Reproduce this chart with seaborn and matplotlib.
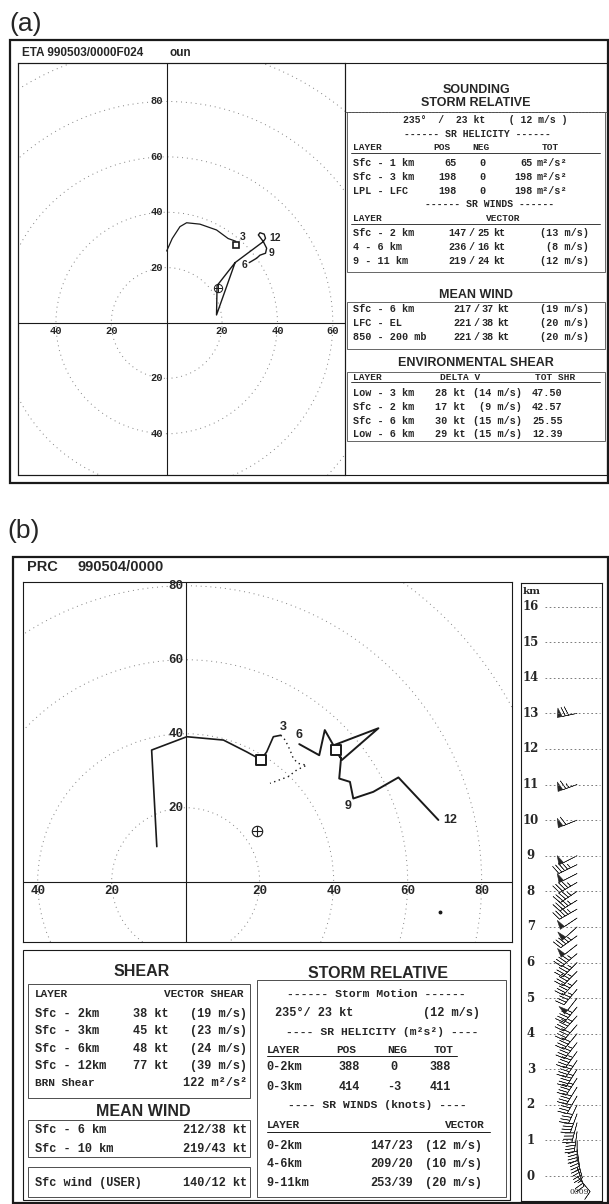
import numpy as np
import matplotlib
matplotlib.use("Agg")
import matplotlib.pyplot as plt
import seaborn as sns
from matplotlib.patches import Rectangle, Circle

# ---------------- data ----------------
# panel (a) hodograph, knots
a_upper_u = [0.0, 2.0, 4.8, 7.2, 12.0, 18.0, 22.2, 25.0]
a_upper_v = [26.0, 30.5, 34.8, 36.2, 35.7, 33.6, 30.5, 29.5]
a_lower_u = [24.7, 18.2, 18.0, 24.7, 34.9, 33.1, 33.7, 35.2, 35.7, 34.9, 36.1, 35.7, 33.7, 32.5, 29.8]
a_lower_v = [21.8, 13.5, 2.9, 21.8, 29.4, 31.8, 32.6, 32.1, 30.6, 29.4, 27.0, 25.2, 24.5, 23.4, 21.8]
a_square = (25.0, 28.2)
a_storm = (18.4, 12.8)
a_labels = ["3", "6", "9", "12"]
a_label_u = [27.6, 28.0, 37.7, 39.3]
a_label_v = [31.2, 20.9, 25.2, 30.6]

# panel (b) hodograph, knots
b_low_u = [-7.8, -9.2, 0.3, 10.2, 16.5, 20.3, 21.9, 23.7, 25.7]
b_low_v = [9.5, 35.6, 39.2, 38.3, 35.1, 33.0, 35.1, 39.2, 39.6]
b_dot_u = [25.7, 26.9, 28.2, 29.1, 30.4, 32.7, 30.0, 27.7, 22.8]
b_dot_v = [39.6, 38.3, 35.6, 33.3, 32.0, 31.5, 30.2, 28.4, 26.6]
b_up_u = [30.7, 36.1, 37.6, 42.2, 52.1, 39.5, 42.0, 41.5, 44.4, 45.3, 50.7, 57.5, 68.3]
b_up_v = [37.2, 34.2, 41.0, 32.9, 41.5, 36.7, 33.5, 27.9, 27.0, 22.5, 24.3, 28.2, 16.7]
b_squares_u = [20.3, 40.6]
b_squares_v = [32.9, 35.6]
b_storm = (19.2, 13.8)
b_dot = (68.7, -8.1)
b_labels = ["3", "6", "9", "12"]
b_label_u = [26.4, 30.6, 43.9, 71.5]
b_label_v = [41.9, 39.8, 20.5, 16.7]

# panel (b) wind profile (km, direction deg, speed kt)
prof_km = [0.0, 0.25, 0.5, 0.75, 1.0, 1.25, 1.5, 1.75, 2.0, 2.25, 2.5, 2.75, 3.0,
           3.25, 3.5, 3.75, 4.0, 4.25, 4.5, 4.75, 5.0, 5.25, 5.5, 5.75, 6.0,
           6.25, 6.5, 6.75, 7.0, 7.25, 7.5, 7.75, 8.0, 8.25, 8.5, 8.75, 9.0,
           10.0, 11.0, 13.0]
prof_dir = [140, 160, 165, 172, 180, 188, 195, 200, 205, 210, 212, 213, 212,
            214, 216, 218, 220, 221, 222, 220, 218, 220, 223, 225, 225,
            230, 232, 234, 228, 236, 240, 238, 236, 240, 243, 244, 243,
            248, 250, 258]
prof_spd = [12, 25, 36, 38, 39, 39, 39, 38, 38, 39, 40, 44, 46,
            45, 44, 43, 42, 42, 43, 46, 48, 47, 46, 45, 47,
            45, 48, 47, 49, 48, 46, 45, 47, 46, 48, 47, 48,
            60, 64, 72]
prof_ticks = list(range(0, 17))

# panel (a) tables
a_motion = "235°  /  23 kt    ( 12 m/s )"
a_hel_layers = ["Sfc - 1 km", "Sfc - 3 km", "LPL - LFC"]
a_hel_pos = [65, 198, 198]
a_hel_neg = [0, 0, 0]
a_hel_tot = [65, 198, 198]
a_srw_layers = ["Sfc - 2 km", "4 - 6 km", "9 - 11 km"]
a_srw_dir = [147, 236, 219]
a_srw_kt = [25, 16, 24]
a_srw_ms = [13, 8, 12]
a_mw_layers = ["Sfc - 6 km", "LFC - EL", "850 - 200 mb"]
a_mw_dir = [217, 221, 221]
a_mw_kt = [37, 38, 38]
a_mw_ms = [19, 20, 20]
a_sh_layers = ["Low - 3 km", "Sfc - 2 km", "Sfc - 6 km", "Low - 6 km"]
a_sh_kt = [28, 17, 30, 29]
a_sh_ms = [14, 9, 15, 15]
a_sh_tot = ["47.50", "42.57", "25.55", "12.39"]

# panel (b) tables
b_sh_layers = ["Sfc - 2km", "Sfc - 3km", "Sfc - 6km", "Sfc - 12km"]
b_sh_kt = [38, 45, 48, 77]
b_sh_ms = [19, 23, 24, 39]
b_brn = 122
b_mw_layers = ["Sfc - 6 km", "Sfc - 10 km"]
b_mw_vals = ["212/38 kt", "219/43 kt"]
b_sfc_wind = "140/12 kt"
b_hel_layers = ["0-2km", "0-3km"]
b_hel_pos = [388, 414]
b_hel_neg = [0, -3]
b_hel_tot = [388, 411]
b_srw_layers = ["0-2km", "4-6km", "9-11km"]
b_srw_vec = ["147/23", "209/20", "253/39"]
b_srw_ms = [12, 10, 20]

# ---------------- figure ----------------
sns.set_theme(style="white")
plt.rcParams['font.family'] = ['Liberation Sans', 'DejaVu Sans']
MONO = ['Liberation Mono', 'DejaVu Sans Mono']
SANS = ['Liberation Sans', 'DejaVu Sans']
SERIF = ['DejaVu Serif']

W, H = 609, 1204
fig = plt.figure(figsize=(W / 100, H / 100), dpi=100)
fig.patch.set_facecolor('white')


def rect(x0, y0, x1, y1):
    return [x0 / W, 1 - y1 / H, (x1 - x0) / W, (y1 - y0) / H]


def hodo_axes(box, xlim, ylim, rings):
    ax = fig.add_axes(rect(*box))
    ax.set_xlim(*xlim)
    ax.set_ylim(*ylim)
    ax.set_xticks([])
    ax.set_yticks([])
    for s in ax.spines.values():
        s.set_linewidth(0.8)
        s.set_color('k')
    for r in rings:
        ax.add_patch(Circle((0, 0), r, fill=False, ls=(0, (1, 4)), lw=0.7, color='0.5'))
    ax.axhline(0, color='k', lw=0.8)
    ax.axvline(0, color='k', lw=0.8)
    return ax


# ---- panel (a) hodograph
axa = hodo_axes((18, 63, 345, 475), (-53.7, 64.4), (-54.9, 93.9), [20, 40, 60, 80, 100])
sns.lineplot(x=a_upper_u, y=a_upper_v, sort=False, estimator=None, color='k', lw=0.9, ax=axa)
sns.lineplot(x=a_lower_u, y=a_lower_v, sort=False, estimator=None, color='k', lw=1.0, ax=axa)
axa.plot(*a_square, marker='s', ms=4.5, mfc='white', mec='k', mew=1.2)
axa.plot(*a_storm, marker='o', ms=6, mfc='none', mec='k', mew=0.7)
axa.plot(*a_storm, marker='+', ms=6, color='k', mew=0.7)
for s, u, v in zip(a_labels, a_label_u, a_label_v):
    axa.text(u, v, s, fontsize=7.5, fontweight='bold', ha='center', va='center', family=SANS)
for val in [-40, -20, 20, 40, 60]:
    axa.text(val, -1.0, str(abs(val)), fontsize=7.5, fontweight='bold', ha='center', va='top', family=MONO)
for val in [80, 60, 40, 20, -20, -40]:
    axa.text(-1.2, val, str(abs(val)), fontsize=7.5, fontweight='bold', ha='right', va='center', family=MONO)

# ---- panel (b) hodograph
axb = hodo_axes((22.7, 581.7, 512, 941.7), (-44.05, 88.2), (-16.2, 81.1), [20, 40, 60, 80, 100])
sns.lineplot(x=b_low_u, y=b_low_v, sort=False, estimator=None, color='k', lw=1.2, ax=axb)
sns.lineplot(x=b_up_u, y=b_up_v, sort=False, estimator=None, color='k', lw=1.4, ax=axb)
axb.plot(b_dot_u, b_dot_v, color='k', lw=1.0, ls=(0, (1, 2.5)))
sns.scatterplot(x=b_squares_u, y=b_squares_v, marker='s', s=45, facecolor='white',
                edgecolor='k', linewidth=1.4, ax=axb, zorder=5)
axb.plot(*b_storm, marker='o', ms=7.5, mfc='none', mec='k', mew=0.8)
axb.plot(*b_storm, marker='+', ms=7.5, color='k', mew=0.8)
axb.plot(*b_dot, marker='o', ms=1.8, color='k')
for s, u, v in zip(b_labels, b_label_u, b_label_v):
    axb.text(u, v, s, fontsize=9, fontweight='bold', ha='center', va='center', family=SANS)
for val in [-40, -20, 20, 40, 60, 80]:
    axb.text(val, -0.9, str(abs(val)), fontsize=9, fontweight='bold', ha='center', va='top', family=MONO)
for val in [80, 60, 40, 20]:
    axb.text(-0.6, val, str(val), fontsize=9, fontweight='bold', ha='right', va='center', family=MONO)

# ---- panel (b) wind profile
axp = fig.add_axes(rect(521, 582.7, 602.3, 1201))
axp.set_xlim(0, 1)
axp.set_ylim(-0.70, 16.67)
axp.set_xticks([])
axp.set_yticks([])
for s in axp.spines.values():
    s.set_linewidth(0.8)
    s.set_color('k')
for k in prof_ticks:
    axp.plot([0.30, 0.975], [k, k], color='0.4', lw=0.6, ls=(0, (2, 3)))
    axp.text(0.12, k, str(k), fontsize=8.5, fontweight='bold', ha='center', va='center', family=SERIF)
axp.text(0.02, 16.42, "km", fontsize=7.5, fontweight='bold', ha='left', va='center', family=SERIF)
d = np.deg2rad(prof_dir)
pu = -np.array(prof_spd) * np.sin(d)
pv = -np.array(prof_spd) * np.cos(d)
axp.barbs([0.69] * len(prof_km), prof_km, pu, pv, length=5.4, linewidth=0.4, color='0.15',
          pivot='tip', sizes=dict(emptybarb=0.0, spacing=0.16, height=0.45))
axp.text(0.72, -0.45, "0009", fontsize=5.5, ha='center', va='center', family=SERIF)

# ---------------- overlay (frames and tables, pixel coords) ----------------
ov = fig.add_axes([0, 0, 1, 1], zorder=10)
ov.set_xlim(0, W)
ov.set_ylim(H, 0)
ov.axis('off')
ov.patch.set_alpha(0)


def box(x0, y0, x1, y1, lw=0.7, color='k', ls='-'):
    ov.add_patch(Rectangle((x0, y0), x1 - x0, y1 - y0, fill=False, lw=lw, ec=color, ls=ls))


def hline(x0, x1, y, lw=0.6, color='k', ls='-'):
    ov.plot([x0, x1], [y, y], color=color, lw=lw, ls=ls)


def txt(x, y, s, size=7.3, ha='left', family=MONO, weight='bold'):
    ov.text(x, y, s, fontsize=size, ha=ha, va='center', family=family, fontweight=weight)


# panel labels
ov.text(9, 24, "(a)", fontsize=19, ha='left', va='center', family=SANS)
ov.text(7, 531, "(b)", fontsize=19, ha='left', va='center', family=SANS)

# ---- panel (a) frames
box(10, 40, 608, 483, lw=1.6)
box(18, 63, 607, 475, lw=0.8)
ov.plot([345, 345], [63, 475], color='k', lw=0.8)
txt(22, 53, "ETA 990503/0000F024", size=8.5, family=SANS)
txt(170, 53, "oun", size=8.5, family=SANS)

# ---- panel (a) tables
G = '0.3'
hline(345, 607, 112, color=G, ls=(0, (3, 1)))
box(347, 112, 605, 272, lw=0.6, color=G)
box(347, 302, 605, 349, lw=0.6, color=G)
box(347, 372, 605, 441, lw=0.6, color=G)

txt(476, 90, "SOUNDING", size=9, ha='center', family=SANS)
txt(476, 103, "STORM RELATIVE", size=9, ha='center', family=SANS)
txt(485, 120, a_motion, size=7, ha='center')
txt(477, 134, "------ SR HELICITY ------", size=7, ha='center')
txt(353, 147, "LAYER", size=6.8)
txt(442, 147, "POS", size=6.8, ha='center')
txt(481, 147, "NEG", size=6.8, ha='center')
txt(550, 147, "TOT", size=6.8, ha='center')
hline(351, 600, 153, lw=0.6)
for i, y in enumerate([162.7, 176.7, 190.7]):
    txt(353, y, a_hel_layers[i])
    txt(457, y, str(a_hel_pos[i]), ha='right')
    txt(482, y, str(a_hel_neg[i]), ha='center')
    txt(533, y, str(a_hel_tot[i]), ha='right')
    txt(537, y, "m²/s²")
txt(490, 204, "------ SR WINDS ------", size=7, ha='center')
txt(353, 218.3, "LAYER", size=6.8)
txt(503, 218.3, "VECTOR", size=6.8, ha='center')
hline(351, 600, 223.5, lw=0.6)
for i, y in enumerate([233.3, 247.3, 261]):
    txt(353, y, a_srw_layers[i])
    txt(467, y, str(a_srw_dir[i]), ha='right')
    txt(472, y, "/", ha='center')
    txt(490, y, str(a_srw_kt[i]), ha='right')
    txt(493, y, "kt")
    txt(589, y, "(%d m/s)" % a_srw_ms[i], ha='right')

txt(476, 295, "MEAN WIND", size=9, ha='center', family=SANS)
for i, y in enumerate([309.3, 323.3, 337.3]):
    txt(353, y, a_mw_layers[i])
    txt(472, y, str(a_mw_dir[i]), ha='right')
    txt(477, y, "/", ha='center')
    txt(494, y, str(a_mw_kt[i]), ha='right')
    txt(497, y, "kt")
    txt(589, y, "(%d m/s)" % a_mw_ms[i], ha='right')

txt(476, 363.3, "ENVIRONMENTAL SHEAR", size=9, ha='center', family=SANS)
txt(353, 377, "LAYER", size=6.8)
txt(440, 377, "DELTA V", size=6.8)
txt(535, 377, "TOT SHR", size=6.8)
hline(351, 600, 382, lw=0.6)
for i, y in enumerate([393, 407, 420.5, 434]):
    txt(353, y, a_sh_layers[i])
    txt(435, y, "%d kt" % a_sh_kt[i])
    txt(522, y, "(%d m/s)" % a_sh_ms[i], ha='right')
    txt(532, y, a_sh_tot[i])

# ---- panel (b) frames
box(13, 557, 608, 1203, lw=1.6)
txt(27, 567, "PRC", size=10.5, family=SANS)
txt(78, 567, "990504/0000", size=10.5, family=SANS)

# ---- panel (b) tables
box(22.7, 950, 510, 1200, lw=0.8)
box(28.3, 984, 250, 1098.3, lw=0.7, color=G)
box(28.3, 1120, 250, 1156.7, lw=0.7, color=G)
box(28.3, 1166.7, 250, 1196.7, lw=0.7, color=G)
box(257, 980, 506, 1197, lw=0.7, color=G)

BS = 8.6
txt(141.7, 971.7, "SHEAR", size=11.5, ha='center', family=SANS)
txt(35, 994, "LAYER", size=8)
txt(244, 994, "VECTOR SHEAR", size=8, ha='right')
for i, y in enumerate([1014, 1031.3, 1048.7, 1065.7]):
    txt(35, y, b_sh_layers[i], size=BS)
    txt(132.7, y, "%d kt" % b_sh_kt[i], size=BS)
    txt(246.7, y, "(%d m/s)" % b_sh_ms[i], size=BS, ha='right')
txt(35, 1082.7, "BRN Shear", size=8)
txt(246.7, 1082.7, "%d m²/s²" % b_brn, size=BS, ha='right')

txt(143.3, 1111.7, "MEAN WIND", size=11.5, ha='center', family=SANS)
for i, y in enumerate([1130, 1149.3]):
    txt(35, y, b_mw_layers[i], size=BS)
    txt(246.7, y, b_mw_vals[i], size=BS, ha='right')
txt(35, 1182.7, "Sfc wind (USER)", size=BS)
txt(246.7, 1182.7, b_sfc_wind, size=BS, ha='right')

txt(378.3, 973.3, "STORM RELATIVE", size=11.5, ha='center', family=SANS)
txt(376, 994.3, "------ Storm Motion ------", size=8.2, ha='center')
txt(275, 1012.7, "235°/ 23 kt", size=BS)
txt(480, 1012.7, "(12 m/s)", size=BS, ha='right')
txt(382, 1031.7, "---- SR HELICITY (m²s²) ----", size=8.2, ha='center')
txt(266.7, 1050, "LAYER", size=8)
txt(346, 1050, "POS", size=8, ha='center')
txt(397, 1050, "NEG", size=8, ha='center')
txt(444, 1050, "TOT", size=8, ha='center')
hline(266.7, 456.7, 1056, lw=0.7)
for i, y in enumerate([1066.7, 1086.7]):
    txt(266.7, y, b_hel_layers[i], size=BS)
    txt(349, y, str(b_hel_pos[i]), size=BS, ha='center')
    txt(394, y, str(b_hel_neg[i]), size=BS, ha='center')
    txt(440, y, str(b_hel_tot[i]), size=BS, ha='center')
txt(377, 1105, "---- SR WINDS (knots) ----", size=8.2, ha='center')
txt(266.7, 1125, "LAYER", size=8)
txt(485, 1125, "VECTOR", size=8, ha='right')
hline(266.7, 490, 1132, lw=0.7)
for i, y in enumerate([1146, 1164.3, 1182.7]):
    txt(266.7, y, b_srw_layers[i], size=BS)
    txt(413, y, b_srw_vec[i], size=BS, ha='right')
    txt(482, y, "(%d m/s)" % b_srw_ms[i], size=BS, ha='right')

fig.savefig("out.png", dpi=100, facecolor='white')
